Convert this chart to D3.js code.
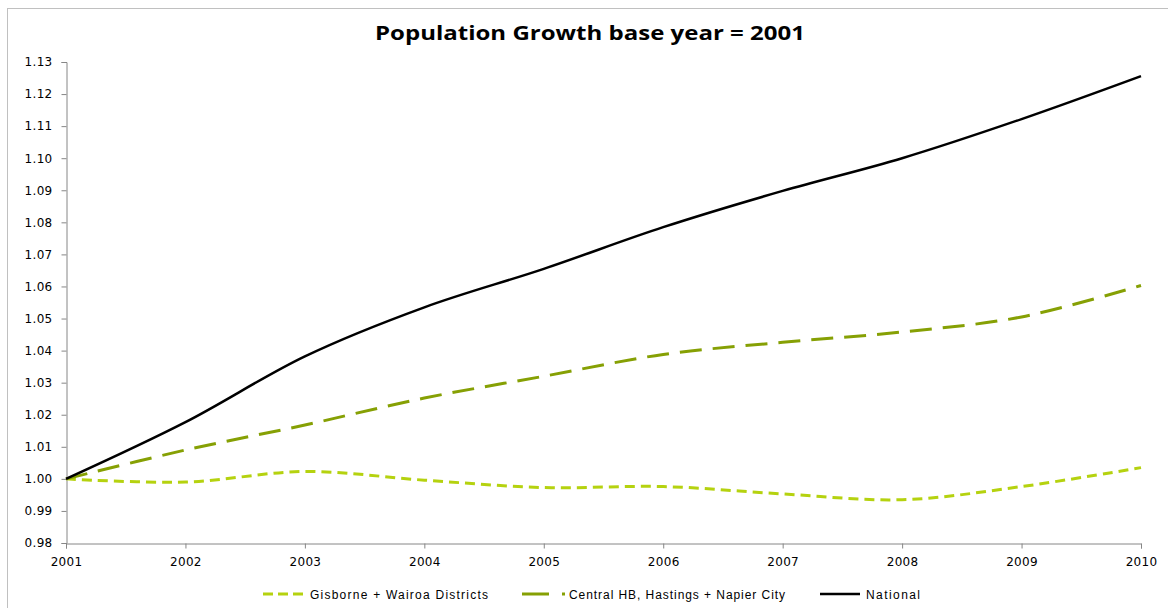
<!DOCTYPE html>
<html>
<head>
<meta charset="utf-8">
<script src="https://cdn.jsdelivr.net/npm/d3@7"></script>
<style>
  body { margin: 0; background: #fff; }
  svg { display: block; }
  .axis path, .axis line { stroke: #868686; }
  .axis text { font-family: "DejaVu Sans", Verdana, sans-serif; font-size: 12px; fill: #000; letter-spacing: 0.3px; }
</style>
</head>
<body>
<svg id="chart" width="1168" height="608"></svg>
<script>
  // years on the category axis
  var years = [2001, 2002, 2003, 2004, 2005, 2006, 2007, 2008, 2009, 2010];
  var gisborne = [1.000, 0.999, 1.0023, 0.9996, 0.9973, 0.9976, 0.9953, 0.9935, 0.9976, 1.0035];
  var centralHB = [1.000, 1.009, 1.0168, 1.0252, 1.032, 1.0388, 1.0426, 1.0458, 1.0505, 1.0603];
  var national = [1.000, 1.0177, 1.0382, 1.0535, 1.0655, 1.0785, 1.0898, 1.1, 1.1122, 1.1256];
  var yTicks = [0.98, 0.99, 1.00, 1.01, 1.02, 1.03, 1.04, 1.05, 1.06, 1.07, 1.08, 1.09,
    1.10, 1.11, 1.12, 1.13];

  var series = [
    { name: "Gisborne + Wairoa Districts", values: gisborne, color: "#b5d20f", width: 3,
      dash: "10,6", legendDash: "10,5" },
    { name: "Central HB, Hastings + Napier City", values: centralHB, color: "#86a004", width: 3,
      dash: "22,11", legendDash: "27,13,3,50" },
    { name: "National", values: national, color: "#000000", width: 2.5,
      dash: null, legendDash: null }
  ];

  var svg = d3.select("#chart");

  // outer chart frame (right and bottom edges fall outside the picture)
  svg.append("rect")
    .attr("x", 7.5).attr("y", 8.5)
    .attr("width", 1200).attr("height", 650)
    .attr("fill", "none")
    .attr("stroke", "#c0c0c0")
    .attr("stroke-width", 1);

  var x = d3.scaleLinear().domain([2001, 2010]).range([66, 1141]);
  var y = d3.scaleLinear().domain([0.98, 1.13]).range([543, 62]);

  svg.append("text")
    .attr("x", 590).attr("y", 40)
    .attr("text-anchor", "middle")
    .attr("textLength", 430)
    .attr("lengthAdjust", "spacingAndGlyphs")
    .style("font-family", "'Open Sans', 'DejaVu Sans', sans-serif")
    .style("font-weight", "bold")
    .style("font-size", "20px")
    .text("Population Growth base year = 2001");

  svg.append("g")
    .attr("class", "axis")
    .attr("transform", "translate(66.5,0)")
    .call(d3.axisLeft(y).tickValues(yTicks).tickSize(5).tickPadding(9)
      .tickFormat(d3.format(".2f")));

  svg.append("g")
    .attr("class", "axis")
    .attr("transform", "translate(0,543.5)")
    .call(d3.axisBottom(x).tickValues(years).tickSize(5).tickPadding(9)
      .tickFormat(d3.format("d")));

  var line = d3.line()
    .x(function (d, i) { return x(years[i]); })
    .y(function (d) { return y(d); })
    .curve(d3.curveCatmullRom.alpha(0.5));

  svg.selectAll(".series")
    .data(series)
    .enter()
    .append("path")
    .attr("class", "series")
    .attr("d", function (s) { return line(s.values); })
    .attr("fill", "none")
    .attr("stroke", function (s) { return s.color; })
    .attr("stroke-width", function (s) { return s.width; })
    .attr("stroke-dasharray", function (s) { return s.dash; });

  // legend
  var legendX = [263, 522, 820];
  var sampleW = [40, 43, 40];
  var textGap = [7, 4, 6];
  var textW = [178, 216, 54];
  var legend = svg.selectAll(".legend")
    .data(series)
    .enter()
    .append("g")
    .attr("class", "legend")
    .attr("transform", function (s, i) { return "translate(" + legendX[i] + ",594)"; });

  legend.append("line")
    .attr("x1", 0)
    .attr("x2", function (s, i) { return sampleW[i]; })
    .attr("y1", 0).attr("y2", 0)
    .attr("stroke", function (s) { return s.color; })
    .attr("stroke-width", function (s) { return s.width; })
    .attr("stroke-dasharray", function (s) { return s.legendDash; });

  legend.append("text")
    .attr("x", function (s, i) { return sampleW[i] + textGap[i]; })
    .attr("y", 4.5)
    .attr("textLength", function (s, i) { return textW[i]; })
    .attr("lengthAdjust", "spacing")
    .style("font-family", "'Liberation Sans', Arial, sans-serif")
    .style("font-size", "12px")
    .text(function (s) { return s.name; });
</script>
</body>
</html>
